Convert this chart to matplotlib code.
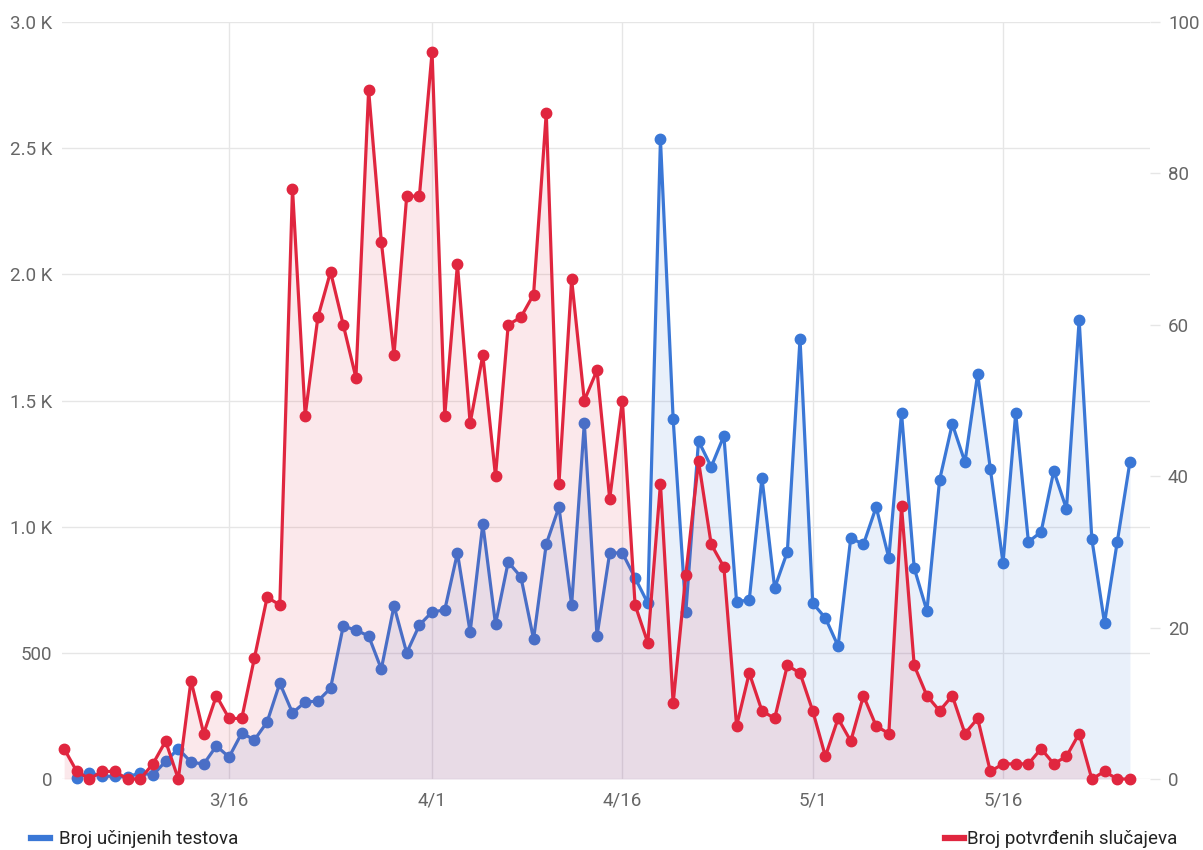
import pandas as pd
import matplotlib.pyplot as plt
import matplotlib.dates as mdates
from matplotlib.lines import Line2D

plt.rcParams['font.family'] = ['Roboto', 'DejaVu Sans']

blue = "#3a77d6"
red = "#e0263f"

# daily values
case_dates = pd.date_range("2020-03-03", "2020-05-26")
cases = [4, 1, 0, 1, 1, 0, 0, 2, 5, 0,
         13, 6, 11, 8, 8, 16, 24, 23, 78, 48,
         61, 67, 60, 53, 91, 71, 56, 77, 77, 96,
         48, 68, 47, 56, 40, 60, 61, 64, 88, 39,
         66, 50, 54, 37, 50, 23, 18, 39, 10, 27,
         42, 31, 28, 7, 14, 9, 8, 15, 14, 9,
         3, 8, 5, 11, 7, 6, 36, 15, 11, 9,
         11, 6, 8, 1, 2, 2, 2, 4, 2, 3,
         6, 0, 1, 0, 0]

test_dates = pd.date_range("2020-03-04", "2020-05-26")
tests = [5, 24, 12, 10, 8, 24, 16, 70, 120, 67,
         59, 131, 87, 182, 155, 226, 380, 262, 305, 309,
         360, 606, 590, 567, 436, 686, 500, 610, 662, 670,
         896, 582, 1011, 614, 860, 801, 555, 931, 1078, 690,
         1411, 567, 896, 896, 797, 697, 2535, 1427, 662, 1340,
         1237, 1360, 702, 710, 1194, 757, 900, 1745, 697, 638,
         527, 955, 930, 1078, 876, 1450, 836, 666, 1185, 1407,
         1256, 1605, 1229, 856, 1450, 940, 979, 1221, 1070, 1819,
         951, 618, 939, 1256]

tick_dates = pd.to_datetime(["2020-03-16", "2020-04-01", "2020-04-16", "2020-05-01", "2020-05-16"])
tick_labels = ["3/16", "4/1", "4/16", "5/1", "5/16"]
left_ticks = [0, 500, 1000, 1500, 2000, 2500, 3000]
left_labels = ["0", "500", "1.0 K", "1.5 K", "2.0 K", "2.5 K", "3.0 K"]
right_ticks = [0, 20, 40, 60, 80, 100]

fig = plt.figure(figsize=(12.03, 8.5), dpi=100)
ax = fig.add_axes([62 / 1203, 1 - 779 / 850, (1150 - 62) / 1203, (779 - 22) / 850])
ax2 = ax.twinx()

ax.fill_between(test_dates, tests, 0, color=blue, alpha=0.11, lw=0)
ax.plot(test_dates, tests, color=blue, lw=2.3, marker="o", ms=7.5, clip_on=False, zorder=3)

ax2.fill_between(case_dates, cases, 0, color=red, alpha=0.10, lw=0)
ax2.plot(case_dates, cases, color=red, lw=2.3, marker="o", ms=7.5, clip_on=False, zorder=3)

ax.set_ylim(0, 3000)
ax2.set_ylim(0, 100)
ax.set_xlim(case_dates[0] - pd.Timedelta(hours=4), case_dates[-1] + pd.Timedelta(hours=38))

ax.set_xticks(tick_dates)
ax.set_xticklabels(tick_labels)
ax.set_yticks(left_ticks)
ax.set_yticklabels(left_labels)
ax2.set_yticks(right_ticks)

ax.grid(True, color="#e6e6e6", lw=1)
ax.set_axisbelow(True)
for a in (ax, ax2):
    for s in a.spines.values():
        s.set_visible(False)

lab_col = "#666666"
ax.tick_params(axis="y", length=0, pad=7, labelsize=13.5, labelcolor=lab_col)
ax.tick_params(axis="x", length=0, pad=9, labelsize=13.5, labelcolor=lab_col)
ax2.tick_params(axis="y", length=7, width=1, color="#e6e6e6", pad=6, labelsize=13.5, labelcolor=lab_col)

h1 = [Line2D([], [], color=blue, lw=4.5)]
h2 = [Line2D([], [], color=red, lw=4.5)]
fig.legend(h1, ["Broj učinjenih testova"], loc="lower left", bbox_to_anchor=(0.012, -0.018),
           frameon=False, handlelength=1.0, handletextpad=0.5, fontsize=13.5, labelcolor="#222222")
fig.legend(h2, ["Broj potvrđenih slučajeva"], loc="lower right", bbox_to_anchor=(0.993, -0.018),
           frameon=False, handlelength=1.0, handletextpad=0.2, fontsize=13.5, labelcolor="#222222")

fig.savefig("out.png", dpi=100)
